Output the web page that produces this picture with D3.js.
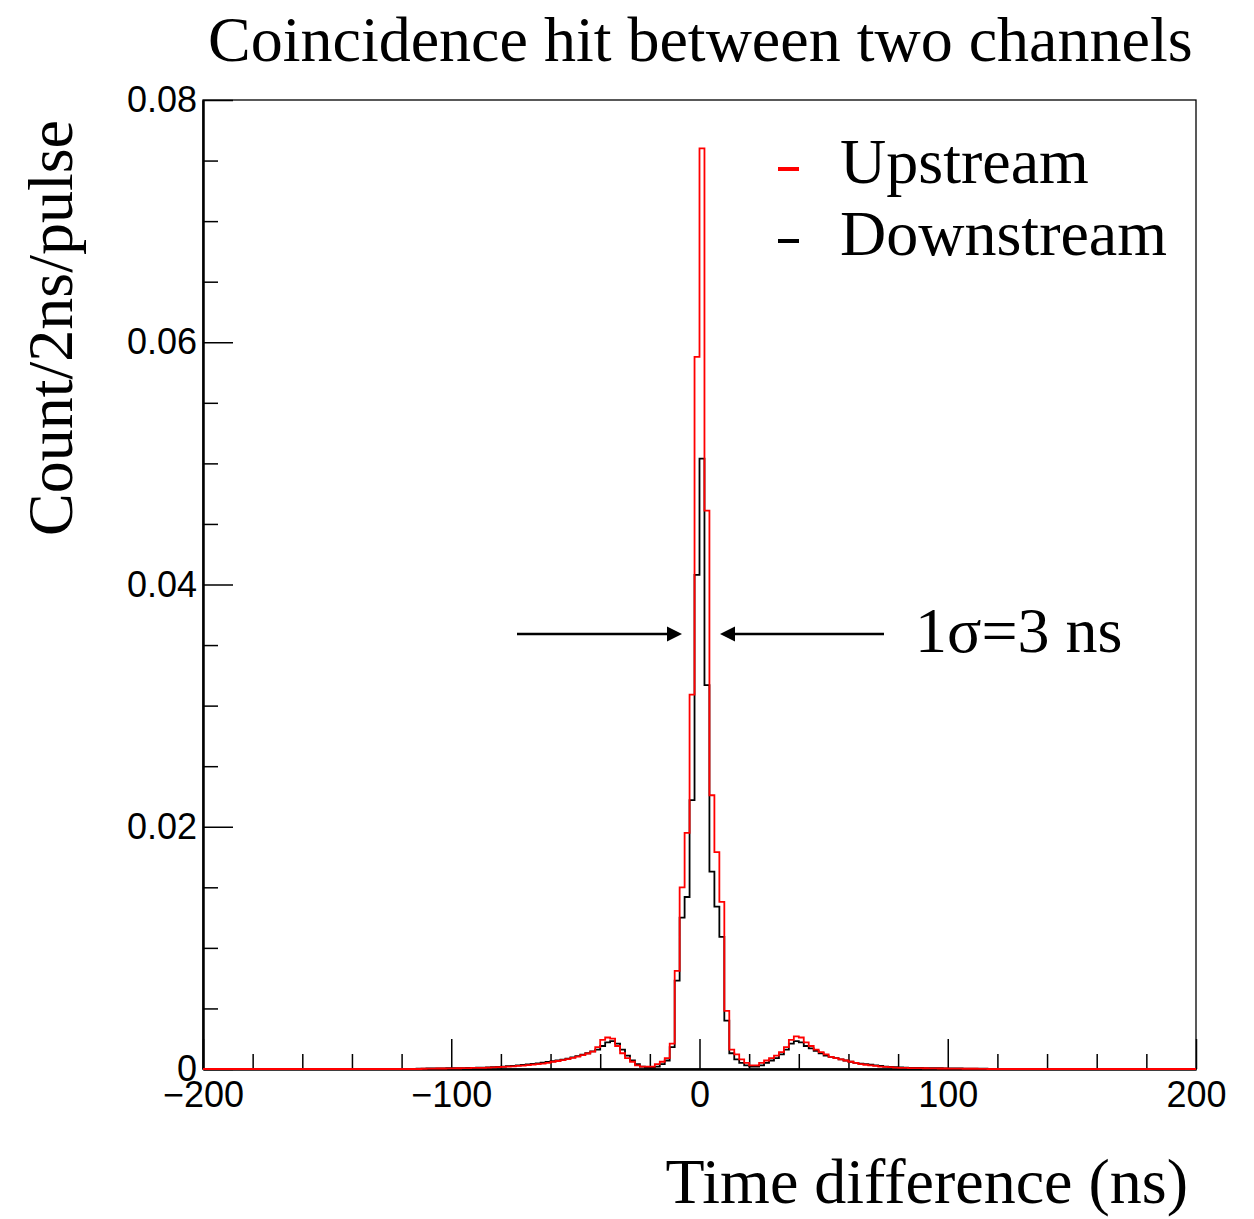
<!DOCTYPE html>
<html>
<head>
<meta charset="utf-8">
<script src="https://cdn.jsdelivr.net/npm/d3@7"></script>
<style>
  html, body { margin: 0; padding: 0; background: #ffffff; }
  svg { display: block; }
</style>
</head>
<body>
<svg id="chart" width="1254" height="1219"></svg>
<script>
// ---------- data ----------
const titleText = "Coincidence hit between two channels";
const xLabel = "Time difference (ns)";
const yLabel = "Count/2ns/pulse";
const seriesNames = ["Upstream", "Downstream"];
const seriesColors = ["#ff0000", "#000000"];
const annotationText = "1\u03c3=3 ns";

const xDomain = [-200, 200];
const yDomain = [0, 0.08];
const xMajorTicks = [-200, -100, 0, 100, 200];
const yMajorTicks = [0, 0.02, 0.04, 0.06, 0.08];
const binWidth = 2;           // ns
const binStart = -120;        // left edge of first listed bin; outside the list the bins are empty

// Upstream (red), bins -120 .. 118 (left edges)
const upstream = [
  0, 0, 0, 0, 0.00002, 0.00003, 0.00003, 0.00004, 0.00004, 0.00005,
  0.00005, 0.00006, 0.00007, 0.00008, 0.00009, 0.0001, 0.0001, 0.00012, 0.00013, 0.00015,
  0.00017, 0.0002, 0.00022, 0.00025, 0.00028, 0.00032, 0.00036, 0.0004, 0.00045, 0.0005,
  0.0006, 0.00066, 0.00074, 0.00082, 0.00092, 0.00102, 0.00114, 0.00128, 0.00144, 0.0018,
  0.0024, 0.0026, 0.0025, 0.0019, 0.0013, 0.0009, 0.0006, 0.0003, 0.0002, 0.0002,
  0.0002, 0.0004, 0.0006, 0.0009, 0.0021,
  0.0081, 0.0150, 0.0195, 0.0309, 0.0588, 0.0760, 0.0461, 0.0226, 0.0179, 0.0138, 0.0048,
  0.0016, 0.0012, 0.0008, 0.0005, 0.0003, 0.0003, 0.0005, 0.0007, 0.0009, 0.0011,
  0.0014, 0.0018, 0.0024, 0.0027, 0.0026, 0.0022, 0.0019, 0.0016, 0.0014, 0.0012,
  0.0010, 0.0009, 0.0008, 0.0007, 0.0006, 0.0005, 0.0004, 0.00035, 0.0003, 0.00025,
  0.0002, 0.00018, 0.00015, 0.00012,
  0.0001, 0.0001, 0.00008, 0.00008, 0.00007, 0.00006, 0.00005, 0.00005, 0.00004, 0.00004,
  0.00003, 0.00003, 0.00003, 0.00002, 0.00002, 0.00002, 0.00001, 0.00001, 0, 0
];

// Downstream (black), bins -120 .. 118 (left edges)
const downstream = [
  0, 0, 0, 0.00002, 0.00003, 0.00004, 0.00004, 0.00005, 0.00005, 0.00006,
  0.00006, 0.00007, 0.00008, 0.00009, 0.0001, 0.00011, 0.00012, 0.00014, 0.00016, 0.00018,
  0.0002, 0.00023, 0.00026, 0.0003, 0.00033, 0.00037, 0.00042, 0.00047, 0.00052, 0.00058,
  0.00064, 0.0007, 0.00078, 0.00086, 0.00096, 0.00106, 0.00118, 0.0013, 0.00145, 0.0016,
  0.0019, 0.0022, 0.0023, 0.0021, 0.0016, 0.0011, 0.0007, 0.0004, 0.0002, 0.0001,
  0.0001, 0.0002, 0.0004, 0.0007, 0.0018,
  0.0073, 0.0125, 0.0142, 0.0222, 0.0408, 0.0504, 0.0317, 0.0163, 0.0134, 0.0109, 0.0040,
  0.0013, 0.0008, 0.0005, 0.0003, 0.0002, 0.0002, 0.0003, 0.0005, 0.0007, 0.0009,
  0.0012, 0.0016, 0.0021, 0.0023, 0.0022, 0.0019, 0.0017, 0.0015, 0.0013, 0.0011,
  0.0010, 0.0009, 0.0008, 0.0007, 0.0006, 0.0005, 0.00045, 0.0004, 0.00035, 0.0003,
  0.00025, 0.0002, 0.00018, 0.00015,
  0.00013, 0.00012, 0.0001, 0.0001, 0.00009, 0.00008, 0.00007, 0.00006, 0.00006, 0.00005,
  0.00005, 0.00004, 0.00004, 0.00003, 0.00003, 0.00003, 0.00002, 0.00002, 0.00001, 0
];

// ---------- layout ----------
const svg = d3.select("#chart");
const plot = { left: 203, right: 1196, top: 100, bottom: 1069 };
const serif = "'Liberation Serif', 'Times New Roman', serif";
const sans = "'Liberation Sans', Arial, Helvetica, sans-serif";

const x = d3.scaleLinear().domain(xDomain).range([plot.left, plot.right]);
const y = d3.scaleLinear().domain(yDomain).range([plot.bottom, plot.top]);

// frame
svg.append("rect")
  .attr("x", plot.left).attr("y", plot.top)
  .attr("width", plot.right - plot.left).attr("height", plot.bottom - plot.top)
  .attr("fill", "none").attr("stroke", "#000").attr("stroke-width", 1.3);

// histograms
function stepPoints(values) {
  const pts = [[xDomain[0], 0], [binStart, 0]];
  values.forEach((v, i) => {
    const x0 = binStart + i * binWidth;
    pts.push([x0, v], [x0 + binWidth, v]);
  });
  pts.push([binStart + values.length * binWidth, 0], [xDomain[1], 0]);
  return pts;
}
const line = d3.line().x(d => x(d[0])).y(d => y(d[1]));

const gHist = svg.append("g");
[downstream, upstream].forEach((vals, k) => {
  gHist.append("path")
    .attr("d", line(stepPoints(vals)))
    .attr("fill", "none")
    .attr("stroke", k === 0 ? seriesColors[1] : seriesColors[0])
    .attr("stroke-width", 1.8)
    .attr("stroke-linejoin", "miter");
});

// axes
const fmtY = d => d === 0 ? "0" : d3.format(".2f")(d);
const yMinor = d3.range(0, 0.0801, 0.005).filter(v => !yMajorTicks.some(m => Math.abs(m - v) < 1e-9));
const xMinor = d3.range(-200, 201, 20).filter(v => !xMajorTicks.includes(v));

const yAxisMinor = svg.append("g").attr("transform", `translate(${plot.left},0)`)
  .call(d3.axisLeft(y).tickValues(yMinor).tickSizeInner(-15).tickSizeOuter(0).tickFormat(""));
const yAxis = svg.append("g").attr("transform", `translate(${plot.left},0)`)
  .call(d3.axisLeft(y).tickValues(yMajorTicks).tickSizeInner(-30).tickSizeOuter(0).tickPadding(6).tickFormat(fmtY));
const xAxisMinor = svg.append("g").attr("transform", `translate(0,${plot.bottom})`)
  .call(d3.axisBottom(x).tickValues(xMinor).tickSizeInner(-15).tickSizeOuter(0).tickFormat(""));
const xAxis = svg.append("g").attr("transform", `translate(0,${plot.bottom})`)
  .call(d3.axisBottom(x).tickValues(xMajorTicks).tickSizeInner(-30).tickSizeOuter(0).tickPadding(12).tickFormat(d3.format("d")));

[yAxisMinor, yAxis, xAxisMinor, xAxis].forEach(g => {
  g.select(".domain").attr("stroke", "#000").attr("stroke-width", 2);
  g.selectAll(".tick line").attr("stroke", "#000").attr("stroke-width", 1.5);
  g.selectAll(".tick text").attr("font-family", sans).attr("font-size", 36).attr("fill", "#000");
});

// histogram above the axes so the red baseline shows over the axis line
gHist.raise();

// title
svg.append("text")
  .attr("x", 208).attr("y", 61)
  .attr("font-family", serif).attr("font-size", 64).attr("fill", "#000")
  .text(titleText);

// x label
svg.append("text")
  .attr("x", 1188).attr("y", 1203)
  .attr("text-anchor", "end")
  .attr("font-family", serif).attr("font-size", 64).attr("fill", "#000")
  .text(xLabel);

// y label
svg.append("text")
  .attr("transform", "translate(72,328) rotate(-90)")
  .attr("text-anchor", "middle")
  .attr("font-family", serif).attr("font-size", 64).attr("fill", "#000")
  .text(yLabel);

// legend
const legend = svg.append("g");
const legendRows = [
  { name: seriesNames[0], color: seriesColors[0], ly: 169, ty: 183 },
  { name: seriesNames[1], color: seriesColors[1], ly: 241, ty: 255 }
];
legendRows.forEach(r => {
  legend.append("line")
    .attr("x1", 778).attr("x2", 799).attr("y1", r.ly).attr("y2", r.ly)
    .attr("stroke", r.color).attr("stroke-width", 4);
  legend.append("text")
    .attr("x", 840).attr("y", r.ty)
    .attr("font-family", serif).attr("font-size", 64).attr("fill", "#000")
    .text(r.name);
});

// sigma annotation with arrows
const ann = svg.append("g");
const ay = 634;
function arrow(xStart, xTip) {
  const dir = Math.sign(xTip - xStart);
  const headLen = 15, headHalf = 7.5;
  ann.append("line")
    .attr("x1", xStart).attr("x2", xTip - dir * headLen).attr("y1", ay).attr("y2", ay)
    .attr("stroke", "#000").attr("stroke-width", 2.5);
  ann.append("path")
    .attr("d", `M${xTip},${ay} L${xTip - dir * headLen},${ay - headHalf} L${xTip - dir * headLen},${ay + headHalf} Z`)
    .attr("fill", "#000");
}
arrow(517, 682);
arrow(884, 720);
ann.append("text")
  .attr("x", 915).attr("y", 652)
  .attr("font-family", serif).attr("font-size", 64).attr("fill", "#000")
  .text(annotationText);
</script>
</body>
</html>
